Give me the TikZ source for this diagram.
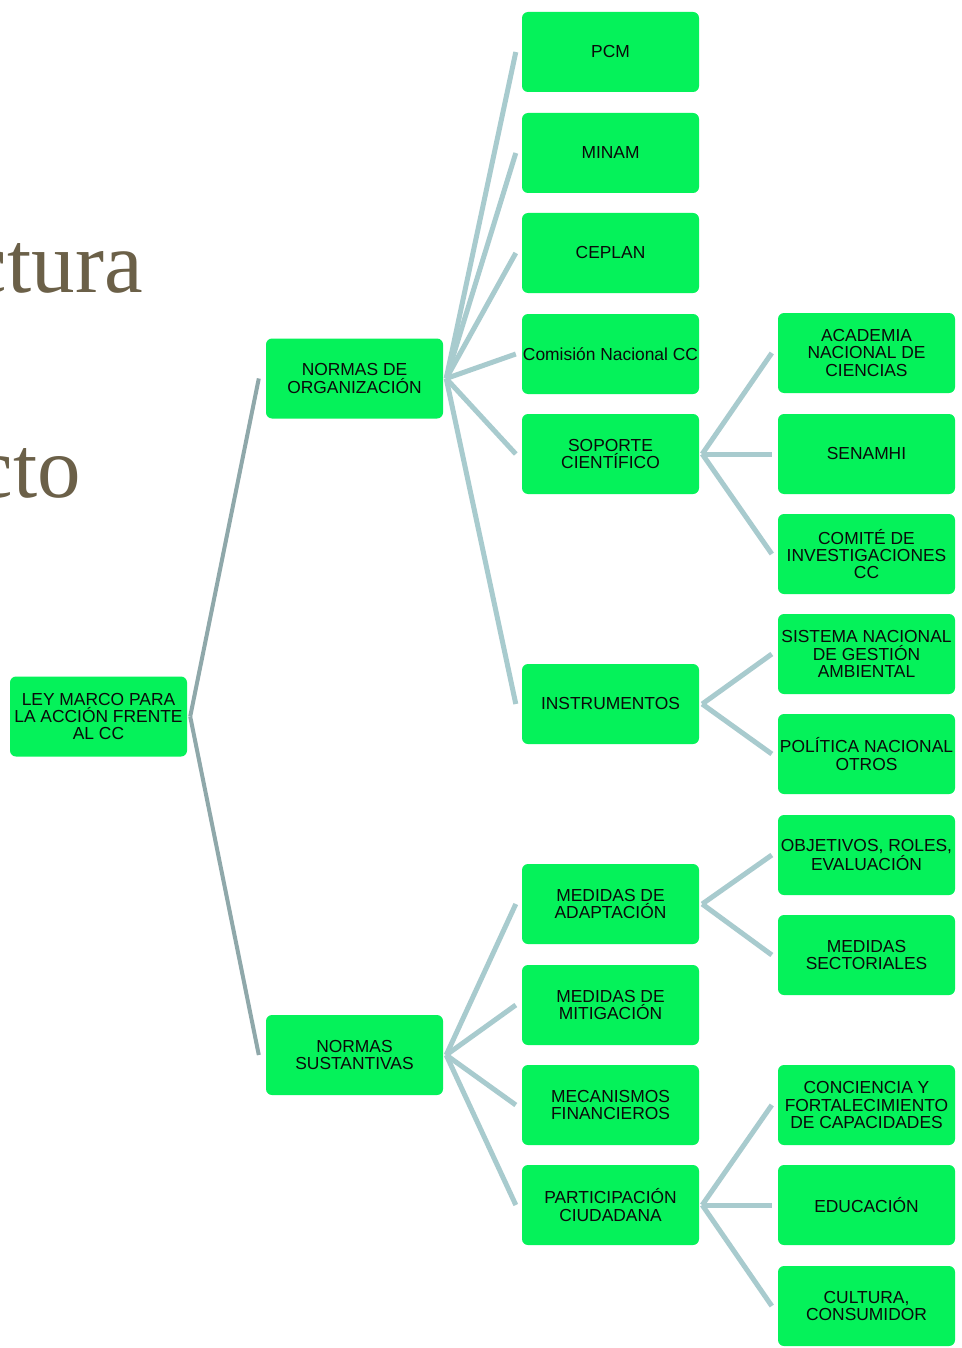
\documentclass[tikz,border=0pt]{standalone}
\usepackage{fontspec}
\setmainfont{Liberation Sans}
\newfontfamily\titleserif{Liberation Serif}
\definecolor{boxgreen}{RGB}{5,242,90}
\definecolor{conncol}{RGB}{168,203,206}
\definecolor{rootconncol}{RGB}{143,168,170}
\definecolor{titlecol}{RGB}{107,96,72}
\definecolor{txtcol}{RGB}{10,10,10}
\tikzset{
  box/.style={rectangle, rounded corners=6pt, fill=boxgreen, minimum width=177pt, minimum height=80pt,
    inner xsep=0pt, inner ysep=2pt, align=center, text=txtcol,
    font=\fontsize{17.4}{17.3}\selectfont},
  conn/.style={draw=conncol, line width=5pt},
  rootconn/.style={draw=rootconncol, line width=4pt},
  bigtitle/.style={anchor=base east, text=titlecol, inner sep=0pt,
    font=\titleserif\fontsize{87}{87}\selectfont}
}
\begin{document}
\begin{tikzpicture}[x=1pt,y=-1pt]
\useasboundingbox (0,0) rectangle (961,1348);
\clip (0,0) rectangle (961,1348);
\fill[white] (0,0) rectangle (961,1348);
% background title fragments (cut by the left edge, as in the reference)
\node[bigtitle] (tA) at (143,292) {ctura};
\node[bigtitle] (tB) at (81,497) {cto};
% level 0
\node[box] (root) at (98.5,716.5) {LEY MARCO PARA\\LA ACCIÓN FRENTE\\AL CC};
% level 1
\node[box] (no) at (354.5,378.5) {NORMAS DE\\ORGANIZACIÓN};
\node[box] (ns) at (354.5,1055) {NORMAS\\SUSTANTIVAS};
% level 2
\node[box] (pcm) at (610.5,52) {PCM};
\node[box] (minam) at (610.5,153) {MINAM};
\node[box] (ceplan) at (610.5,253) {CEPLAN};
\node[box] (cnc) at (610.5,354) {Comisión Nacional CC};
\node[box] (sop) at (610.5,454) {SOPORTE\\CIENTÍFICO};
\node[box] (ins) at (610.5,704) {INSTRUMENTOS};
\node[box] (mad) at (610.5,904) {MEDIDAS DE\\ADAPTACIÓN};
\node[box] (mmi) at (610.5,1005) {MEDIDAS DE\\MITIGACIÓN};
\node[box] (mfi) at (610.5,1105) {MECANISMOS\\FINANCIEROS};
\node[box] (par) at (610.5,1205) {PARTICIPACIÓN\\CIUDADANA};
% level 3
\node[box] (acad) at (866.5,353) {ACADEMIA\\NACIONAL DE\\CIENCIAS};
\node[box] (sen) at (866.5,454) {SENAMHI};
\node[box] (com) at (866.5,554) {COMITÉ DE\\INVESTIGACIONES\\CC};
\node[box] (sis) at (866.5,654) {SISTEMA NACIONAL\\DE GESTIÓN\\AMBIENTAL};
\node[box] (pol) at (866.5,754) {POLÍTICA NACIONAL\\OTROS};
\node[box] (obj) at (866.5,855) {OBJETIVOS, ROLES,\\EVALUACIÓN};
\node[box] (mse) at (866.5,955) {MEDIDAS\\SECTORIALES};
\node[box] (con) at (866.5,1105) {CONCIENCIA Y\\FORTALECIMIENTO\\DE CAPACIDADES};
\node[box] (edu) at (866.5,1205) {EDUCACIÓN};
\node[box] (cul) at (866.5,1306) {CULTURA,\\CONSUMIDOR};
% connectors root -> level 1
\draw[rootconn] ([xshift=3pt]root.east) -- ([xshift=-7pt]no.west);
\draw[rootconn] ([xshift=3pt]root.east) -- ([xshift=-7pt]ns.west);
% connectors level 1 -> level 2
\foreach \c in {pcm,minam,ceplan,cnc,sop,ins}
  \draw[conn] ([xshift=3pt]no.east) -- ([xshift=-6pt]\c.west);
\foreach \c in {mad,mmi,mfi,par}
  \draw[conn] ([xshift=3pt]ns.east) -- ([xshift=-6pt]\c.west);
% connectors level 2 -> level 3
\foreach \c in {acad,sen,com}
  \draw[conn] ([xshift=3pt]sop.east) -- ([xshift=-6pt]\c.west);
\foreach \c in {sis,pol}
  \draw[conn] ([xshift=3pt]ins.east) -- ([xshift=-6pt]\c.west);
\foreach \c in {obj,mse}
  \draw[conn] ([xshift=3pt]mad.east) -- ([xshift=-6pt]\c.west);
\foreach \c in {con,edu,cul}
  \draw[conn] ([xshift=3pt]par.east) -- ([xshift=-6pt]\c.west);
\end{tikzpicture}
\end{document}
